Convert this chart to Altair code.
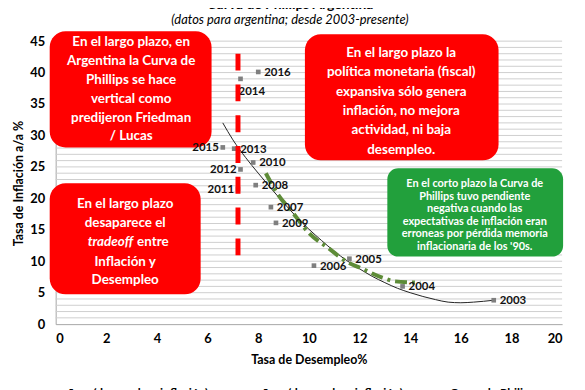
import altair as alt
import pandas as pd

# ---------------- data ----------------
anios = ["2003", "2004", "2005", "2006", "2007", "2008", "2009",
         "2010", "2011", "2012", "2013", "2014", "2015", "2016"]
desempleo = [17.3, 13.7, 11.6, 10.2, 8.5, 7.9, 8.7,
             7.8, 7.2, 7.3, 7.05, 7.3, 6.6, 8.0]
inflacion = [3.8, 6.0, 10.4, 9.3, 18.6, 22.1, 16.1,
             25.7, 21.5, 24.6, 27.9, 39.0, 28.1, 40.1]
posicion = ["der", "der", "der", "der", "der", "der", "der",
            "der", "izq", "izq", "der", "abajo", "izq", "der"]

# long-run trend "Curva de Philips"
curva_x = [6.6, 7.0, 7.5, 8.0, 8.5, 9.0, 9.5, 10.0, 10.5, 11.0, 11.5,
           12.0, 12.5, 13.0, 13.5, 14.0, 14.5, 15.0, 15.5, 16.0, 16.5, 17.3]
curva_y = [32.0, 29.3, 26.5, 24.0, 21.6, 19.3, 17.1, 15.1, 13.3, 11.6, 10.1,
           8.8, 7.6, 6.6, 5.7, 5.0, 4.4, 3.9, 3.5, 3.4, 3.5, 3.8]

# short-run curve (green dash-dot)
corto_x = [8.3, 8.75, 9.37, 10.0, 10.8, 11.5, 12.0, 12.9, 13.4, 14.4]
corto_y = [24.0, 20.8, 17.7, 14.5, 12.0, 9.9, 9.0, 7.4, 6.8, 6.6]

# vertical long-run curve (red dashed)
vertical_x = [7.2]
vertical_top = [43.0]
vertical_bottom = [10.5]

x_ticks = list(range(0, 21, 2))
y_ticks = list(range(0, 46, 5))
y_grid = list(range(1, 46))

titulo = "Curva de Phillips Argentina"
subtitulo = "(datos para argentina; desde 2003-presente)"
eje_x = "Tasa de Desempleo%"
eje_y = "Tasa de Inflación a/a %"
leyenda = ["años=(desempleo; inflación)", "años=(desempleo; inflación)", "Curva de Philips"]

caja1 = ["En el largo plazo, en", "Argentina la Curva de", "Phillips se hace",
         "vertical como", "predijeron Friedman", "/ Lucas"]
caja2 = ["En el largo plazo la", "política monetaria (fiscal)", "expansiva sólo genera",
         "inflación, no mejora", "actividad, ni baja", "desempleo."]
caja3 = ["En el largo plazo", "desaparece el", "tradeoff", "entre", "Inflación y", "Desempleo"]
caja4 = ["En el corto plazo la Curva de", "Phillips tuvo pendiente", "negativa cuando las",
         "expectativas de inflación eran", "erroneas por pérdida memoria",
         "inflacionaria de los '90s."]

# ---------------- layout helpers (annotation placement only) ----------------
W, H = 510, 285
XMAX, YMAX = 20, 45
FONT = "Lato"
RED = "#ff0000"
GREEN = "#22a03c"


def X(px):
    return (px - 56) / W * XMAX


def Y(py):
    return (325 - py) / H * YMAX


xs = alt.Scale(domain=[0, XMAX], nice=False, zero=False)
ys = alt.Scale(domain=[0, YMAX], nice=False, zero=False)

X_AX = alt.Axis(values=x_ticks, grid=False, ticks=False, labelPadding=8,
                labelFontSize=13, labelFontWeight="bold", labelColor="#000",
                domainColor="#a6a6a6", titleFontSize=12.5, titleFontWeight="bold",
                titleColor="#000", titlePadding=9, labelOverlap=False)
Y_AX = alt.Axis(values=y_ticks, grid=False, ticks=False, labelOverlap=False,
                labelPadding=11, labelFontSize=13, labelFontWeight="bold",
                labelColor="#000", domainColor="#a6a6a6", titleFontSize=12.5,
                titleFontWeight="bold", titleColor="#000", titleX=-37, titleY=143,
                titleAngle=270, titleBaseline="middle", titleAlign="center")


def ex(field="x"):
    return alt.X(f"{field}:Q", scale=xs, axis=X_AX, title=eje_x)


def ey(field="y"):
    return alt.Y(f"{field}:Q", scale=ys, axis=Y_AX, title=eje_y)


puntos = pd.DataFrame({"anio": anios, "x": desempleo, "y": inflacion, "pos": posicion})
curva = pd.DataFrame({"x": curva_x, "y": curva_y})
corto = pd.DataFrame({"x": corto_x, "y": corto_y})
vert = pd.DataFrame({"x": vertical_x, "y": vertical_top, "y2": vertical_bottom})
grid = pd.DataFrame({"y": y_grid})

cajas_rojas = pd.DataFrame([
    dict(x=X(50), x2=X(213), y=Y(30), y2=Y(147)),
    dict(x=X(307), x2=X(502), y=Y(33), y2=Y(160)),
    dict(x=X(50), x2=X(202), y=Y(183), y2=Y(295)),
])
caja_verde = pd.DataFrame([dict(x=X(390), x2=X(567), y=Y(168), y2=Y(257))])

rows = []
for i, t in enumerate(caja1):
    rows.append(dict(t=t, x=X(132), y=Y(41 + 19 * i), s=13.5, st="normal", al="center"))
for i, t in enumerate(caja2):
    rows.append(dict(t=t, x=X(404), y=Y(52 + 19.5 * i), s=13.5, st="normal", al="center"))
c3y = [204, 223, 242, 242, 262, 281]
c3x = [126, 126, 134, 138, 126, 126]
c3al = ["center", "center", "right", "left", "center", "center"]
c3st = ["normal", "normal", "italic", "normal", "normal", "normal"]
for i, t in enumerate(caja3):
    rows.append(dict(t=t, x=X(c3x[i]), y=Y(c3y[i]), s=13.5, st=c3st[i], al=c3al[i]))
for i, t in enumerate(caja4):
    rows.append(dict(t=t, x=X(478), y=Y(184 + 12.6 * i), s=11, st="normal", al="center"))
textos = pd.DataFrame(rows)

rejilla = alt.Chart(grid).mark_rule(color="#cfcfcf", strokeWidth=1).encode(y=ey())

rojas = alt.Chart(cajas_rojas).mark_rect(color=RED, cornerRadius=16).encode(
    x=ex(), x2="x2:Q", y=ey(), y2="y2:Q")
verde = alt.Chart(caja_verde).mark_rect(color=GREEN, cornerRadius=11).encode(
    x=ex(), x2="x2:Q", y=ey(), y2="y2:Q")


def text_layer(df, align, style, size):
    sub = df[(df.al == align) & (df.st == style) & (df.s == size)]
    return alt.Chart(sub).mark_text(
        align=align, baseline="middle", font=FONT, fontWeight="bold",
        fontStyle=style, fontSize=size, color="white").encode(text="t:N", x=ex(), y=ey())


caja_textos = [text_layer(textos, "center", "normal", 13.5),
               text_layer(textos, "right", "italic", 13.5),
               text_layer(textos, "left", "normal", 13.5),
               text_layer(textos, "center", "normal", 11)]

linea_curva = alt.Chart(curva).mark_line(color="#222", strokeWidth=1,
                                         interpolate="monotone").encode(x=ex(), y=ey())
linea_corto = alt.Chart(corto).mark_line(color="#5e8c38", strokeWidth=4,
                                         strokeDash=[12, 5, 3, 5],
                                         interpolate="monotone").encode(x=ex(), y=ey())
marcas = alt.Chart(puntos).mark_square(size=22, color="#7f7f7f", opacity=1).encode(
    x=ex(), y=ey())

lab_der = alt.Chart(puntos).transform_filter("datum.pos == 'der'").mark_text(
    align="left", baseline="middle", dx=6, dy=1, font=FONT, fontWeight="bold",
    fontSize=11.5, color="#111").encode(text="anio:N", x=ex(), y=ey())
lab_izq = alt.Chart(puntos).transform_filter("datum.pos == 'izq'").mark_text(
    align="right", baseline="middle", dx=-4, dy=1, font=FONT, fontWeight="bold",
    fontSize=11.5, color="#111").encode(text="anio:N", x=ex(), y=ey())
lab_abajo = alt.Chart(puntos).transform_filter("datum.pos == 'abajo'").mark_text(
    align="left", baseline="middle", dx=-2, dy=13, font=FONT, fontWeight="bold",
    fontSize=11.5, color="#111").encode(text="anio:N", x=ex(), y=ey())

rojo_vertical = alt.Chart(vert).mark_rule(color=RED, strokeWidth=5,
                                          strokeDash=[17, 14]).encode(
    x=ex(), y=ey(), y2="y2:Q")

uno = pd.DataFrame({"a": [0]})
tit = alt.Chart(uno).mark_text(font=FONT, fontWeight="bold", fontSize=14,
                               color="#000", baseline="middle").encode(
    x=alt.value(236), y=alt.value(-36), text=alt.value(titulo))
subtit = alt.Chart(uno).mark_text(font=FONT, fontStyle="italic", fontSize=13,
                                  color="#000", baseline="middle").encode(
    x=alt.value(236), y=alt.value(-21), text=alt.value(subtitulo))

ley_txt = alt.Chart(pd.DataFrame({"t": leyenda, "px": [6, 202, 397]})).mark_text(
    align="left", baseline="top", font=FONT, fontWeight="bold", fontSize=12,
    color="#000").encode(x=alt.X("px:Q", scale=None), y=alt.value(349), text="t:N")
ley_m1 = alt.Chart(uno).mark_square(size=22, color="#f79646", opacity=1).encode(
    x=alt.value(-4), y=alt.value(356))
ley_m2 = alt.Chart(uno).mark_square(size=10, color="#7f7f7f", opacity=1).encode(
    x=alt.value(193), y=alt.value(356))
ley_l = alt.Chart(uno).mark_rule(color="#222", strokeWidth=1).encode(
    x=alt.value(374), x2=alt.value(388), y=alt.value(356))

chart = alt.layer(
    rejilla, rojas, verde, *caja_textos, linea_curva, linea_corto, marcas,
    lab_der, lab_izq, lab_abajo, rojo_vertical, tit, subtit,
    ley_txt, ley_m1, ley_m2, ley_l,
).properties(
    width=W, height=H,
    autosize=alt.AutoSizeParams(type="none"),
    padding={"left": 48, "top": 32, "right": 15, "bottom": 70},
    background="white",
).configure_view(stroke=None).configure_axis(labelFont=FONT, titleFont=FONT)

chart.save("out.html", embed_options={"renderer": "svg", "actions": False})
